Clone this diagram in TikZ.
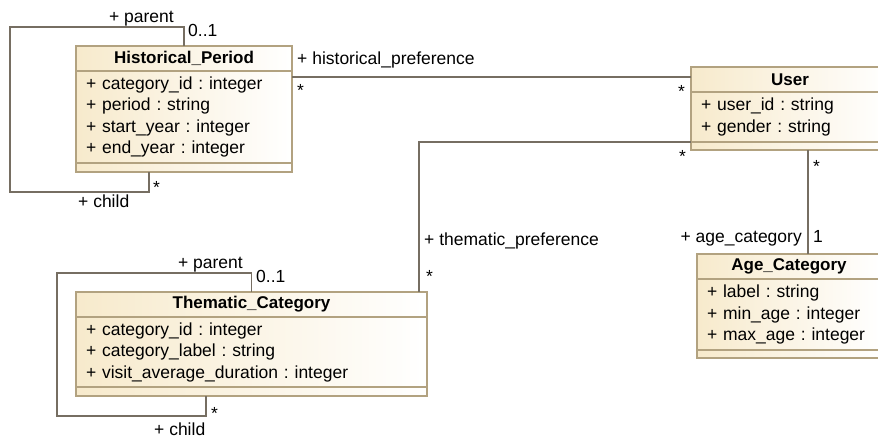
\documentclass[tikz,border=0pt]{standalone}
\usepackage{fontspec}
\setmainfont{Liberation Sans}
\usetikzlibrary{positioning}

\definecolor{clsfill}{RGB}{247,234,204}
\definecolor{clsline}{RGB}{178,162,128}
\definecolor{assocline}{RGB}{118,110,98}
\newcommand{\umlfont}{\fontsize{17.5}{21.5}\selectfont\frenchspacing}

\begin{document}
\begin{tikzpicture}
		[x=1pt,y=1pt,
		clsname/.style={rectangle,draw=clsline,left color=clsfill,right color=white,line width=1.2pt,outer sep=0pt,inner sep=0pt,font=\fontsize{17}{21}\selectfont\bfseries,minimum height=25pt,minimum width=#1},
		clsattr/.style={rectangle,draw=clsline,left color=clsfill,right color=white,line width=1.2pt,outer sep=0pt,inner xsep=10pt,inner ysep=0pt,font=\umlfont,align=left,text width=#1},
		clsops/.style={rectangle,draw=clsline,left color=clsfill,right color=white,line width=1.2pt,outer sep=0pt,inner sep=0pt,minimum height=9pt,minimum width=#1},
		assoc/.style={draw=assocline,line width=1.2pt},
		lbl/.style={inner sep=0pt,font=\umlfont}]
		\useasboundingbox (0,0) rectangle (878,-438);

		\node [clsname=216pt,anchor=north west] (hpname) at (76,-46) {Historical\_Period};
		\node [clsattr=196pt,minimum height=92pt] (hpattr) [below=0pt of hpname] {+ category\_id : integer\\+ period : string\\+ start\_year : integer\\+ end\_year : integer};
		\node [clsops=216pt] (hpops) [below=0pt of hpattr] {};

		\node [clsname=198pt,anchor=north west] (usname) at (691,-67) {User};
		\node [clsattr=178pt,minimum height=50pt] (usattr) [below=0pt of usname] {+ user\_id : string\\+ gender : string};
		\node [clsops=198pt,minimum height=8pt] (usops) [below=0pt of usattr] {};

		\node [clsname=184pt,anchor=north west] (agname) at (697,-254) {Age\_Category};
		\node [clsattr=164pt,minimum height=71pt] (agattr) [below=0pt of agname] {+ label : string\\+ min\_age : integer\\+ max\_age : integer};
		\node [clsops=184pt,minimum height=8pt] (agops) [below=0pt of agattr] {};

		\node [clsname=351pt,anchor=north west] (tcname) at (76,-292) {Thematic\_Category};
		\node [clsattr=331pt,minimum height=70pt] (tcattr) [below=0pt of tcname] {+ category\_id : integer\\+ category\_label : string\\+ visit\_average\_duration : integer};
		\node [clsops=351pt] (tcops) [below=0pt of tcattr] {};

		% self associations
		\coordinate (hpl1) at (10,-27);
		\coordinate (hpl2) at (10,-192);
		\draw [assoc] (hpname.north) |- (hpl1) -- (hpl2) -| ([xshift=-35pt]hpops.south);
		\coordinate (tcl1) at (57,-273);
		\coordinate (tcl2) at (57,-416);
		\draw [assoc] (tcname.north) |- (tcl1) -- (tcl2) -| ([xshift=-45.5pt]tcops.south);

		% associations to user
		\draw [assoc] ([yshift=-6pt]hpattr.north east) -- ([yshift=-6pt]hpattr.north east -| usname.west);
		\draw [assoc] (usops.north west) -| ([xshift=-8pt]tcname.north east);
		\draw [assoc] ([xshift=18pt]usops.south) -- ([xshift=18pt]usops.south |- agname.north);

		\node [lbl,anchor=base east] (hpparent) at (174,-23) {+ parent};
		\node [lbl,anchor=base west] (hpone) at (188,-37) {0..1};
		\node [lbl,anchor=base west] (hpmany) at (153,-194) {*};
		\node [lbl,anchor=base west] (hpchild) at (78,-208) {+ child};

		\node [lbl,anchor=base west] (hpref) at (297,-65) {+ historical\_preference};
		\node [lbl,anchor=base west] (hprefmany) at (297,-97) {*};
		\node [lbl,anchor=base west] (ushpmany) at (678,-98) {*};

		\node [lbl,anchor=base west] (tcref) at (424,-246) {+ thematic\_preference};
		\node [lbl,anchor=base west] (tcrefmany) at (426,-283) {*};
		\node [lbl,anchor=base west] (ustcmany) at (679,-163) {*};

		\node [lbl,anchor=base west] (usagmany) at (813,-173) {*};
		\node [lbl,anchor=base east] (agref) at (802,-243) {+ age\_category};
		\node [lbl,anchor=base west] (agone) at (813,-243) {1};

		\node [lbl,anchor=base east] (tcparent) at (243,-269) {+ parent};
		\node [lbl,anchor=base west] (tcone) at (256,-283) {0..1};
		\node [lbl,anchor=base west] (tcmany) at (211,-419) {*};
		\node [lbl,anchor=base west] (tcchild) at (154,-435) {+ child};
	\end{tikzpicture}
\end{document}
